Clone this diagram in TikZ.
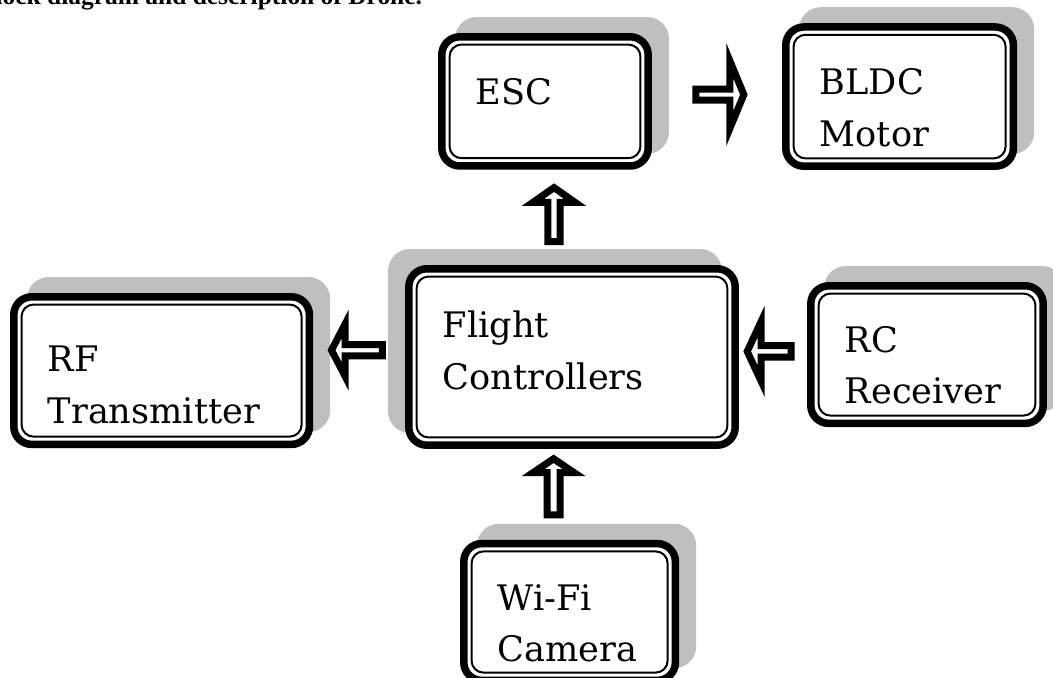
\documentclass[tikz,border=0pt]{standalone}
\usepackage{fontspec}
\setmainfont{DejaVu Serif}
\newfontfamily\titlefont{Liberation Serif}
\usepackage{tikz}
\usetikzlibrary{positioning,shapes.arrows,shadows}

\begin{document}
\begin{tikzpicture}[
    line join=miter
]

\tikzstyle{block}=[
    draw,
    fill=white,
    line width=0.1875cm,
    rounded corners=0.45cm,
    inner xsep=0.85cm,
    inner ysep=0pt,
    align=left,
    text height=1.7cm,
    font=\fontsize{25}{36.3}\selectfont,
    path picture={\draw[line width=0.05cm, rounded corners=0.3cm]
        ([shift={(0.194,0.194)}]path picture bounding box.south west) rectangle
        ([shift={(-0.194,-0.194)}]path picture bounding box.north east);}
]
\tikzstyle{dropright}=[
    drop shadow={shadow xshift=0.425cm, shadow yshift=0.4cm,
        fill=black!25, draw=black!25, opacity=1}
]
\tikzstyle{dropleft}=[
    drop shadow={shadow xshift=-0.425cm, shadow yshift=0.4cm,
        fill=black!25, draw=black!25, opacity=1}
]
\tikzstyle{flow}=[
    single arrow,
    draw,
    fill=white,
    line width=0.175cm,
    inner sep=0pt,
    anchor=tip
]

\useasboundingbox (-14.3,-8.025) rectangle (12.025,8.925);
\clip (-14.3,-8.025) rectangle (12.025,8.925);

\node[font=\titlefont\bfseries\fontsize{18.1}{21}\selectfont, anchor=base east]
    (title) at (-3.625,8.8) {Block diagram and description of Drone.};

% boxes
\node[block, dropleft, text width=6.46cm, text height=1.73cm, text depth=2.68cm]
    (fc) at (0,0) {Flight\\Controllers};
\node[block, dropright, text width=3.46cm, text depth=1.53cm]
    (esc) at (-0.675,6.39) {ESC};
\node[block, dropright, text width=3.99cm, text depth=1.78cm]
    (bldc) at (8.19,6.51) {BLDC\\Motor};
\node[block, dropright, text width=5.69cm, text height=1.88cm, text depth=1.81cm]
    (rf) at (-10.26,-0.34) {RF\\Transmitter};
\node[block, dropright, text width=4.11cm, text height=1.66cm, text depth=1.78cm]
    (rc) at (8.875,0.06) {RC\\Receiver};
\node[block, dropright, text width=3.59cm, text height=1.66cm, text depth=1.76cm]
    (cam) at (-0.06,-6.375) {Wi-Fi\\Camera};

% arrows
\node[flow, rotate=90, minimum height=1.35cm, minimum width=1.05cm,
    single arrow head extend=0.21cm, single arrow tip angle=110]
    (fc2esc) at ([shift={(0.225,-0.34)}]esc.south) {};
\node[flow, minimum height=1.2cm, minimum width=1.68cm,
    single arrow head extend=0.45cm, single arrow tip angle=135]
    (esc2bldc) at ([shift={(-0.86,0.05)}]bldc.west) {};
\node[flow, rotate=180, minimum height=1.27cm, minimum width=1.3cm,
    single arrow head extend=0.32cm, single arrow tip angle=125]
    (fc2rf) at ([shift={(0.36,0.51)}]rf.east) {};
\node[flow, rotate=180, minimum height=1.1cm, minimum width=1.48cm,
    single arrow head extend=0.37cm, single arrow tip angle=130]
    (rc2fc) at ([shift={(0.11,0.14)}]fc.east) {};
\node[flow, rotate=90, minimum height=1.4cm, minimum width=1.03cm,
    single arrow head extend=0.19cm, single arrow tip angle=112]
    (cam2fc) at ([shift={(-0.46,-0.14)}]fc.south) {};

\end{tikzpicture}
\end{document}
